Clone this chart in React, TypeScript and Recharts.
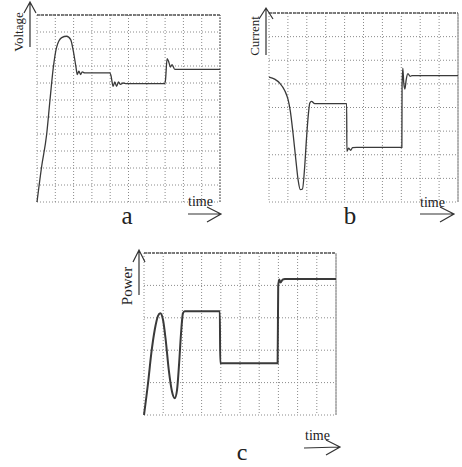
import React from 'react';
import { LineChart, Line, XAxis, YAxis, CartesianGrid, ReferenceLine } from 'recharts';

// time in grid divisions (tick labels on the scan are unreadable)
const timeTicks = [0, 1, 2, 3, 4, 5, 6, 7, 8, 9, 10];
const voltageTicks = [0, 1, 2, 3, 4, 5, 6, 7, 8, 9, 10, 11];
const currentTicks = [0, 1, 2, 3, 4, 5, 6, 7, 8];
const powerTicks = [0, 1, 2, 3, 4, 5];

const voltageTime = [0, 0.25, 0.53, 0.71, 0.89, 1.07, 1.35, 1.62, 1.84, 1.98, 2.13, 2.2, 2.29, 2.38, 2.47, 2.6, 3.98, 4.04, 4.16, 4.25, 4.35, 4.45, 4.56, 4.7, 4.89, 6.98, 7.02, 7.11, 7.2, 7.29, 7.38, 7.53, 10];
const voltageValues = [0, 2.06, 4.0, 6.0, 7.9, 9.1, 9.67, 9.75, 9.55, 8.9, 7.94, 7.5, 7.7, 7.5, 7.65, 7.6, 7.6, 7.45, 6.8, 7.06, 6.8, 7.06, 6.92, 7.0, 6.96, 6.96, 7.16, 8.43, 8.24, 7.94, 8.08, 7.8, 7.8];

const currentTime = [0, 0.3, 0.57, 0.83, 1.01, 1.13, 1.27, 1.42, 1.54, 1.66, 1.77, 1.89, 1.98, 2.09, 2.16, 2.25, 2.42, 4.11, 4.12, 4.21, 4.32, 4.42, 4.64, 7.03, 7.04, 7.08, 7.13, 7.19, 7.26, 7.35, 7.47, 7.56, 10];
const currentValues = [5.29, 5.2, 5.03, 4.72, 4.33, 3.84, 2.92, 1.79, 0.94, 0.52, 0.55, 1.51, 2.64, 3.77, 4.19, 4.26, 4.16, 4.16, 2.14, 2.28, 2.19, 2.3, 2.31, 2.31, 4.89, 5.67, 5.04, 4.78, 5.18, 5.43, 5.32, 5.35, 5.35];

const powerTime = [0, 0.21, 0.38, 0.56, 0.73, 0.85, 0.99, 1.13, 1.29, 1.46, 1.6, 1.72, 1.83, 1.93, 2.03, 2.12, 3.95, 3.97, 6.96, 6.99, 7.04, 7.11, 7.22, 7.34, 10];
const powerValues = [0, 0.98, 1.9, 2.63, 3.06, 3.14, 2.94, 2.32, 1.39, 0.72, 0.52, 0.77, 1.6, 2.53, 3.14, 3.2, 3.2, 1.6, 1.6, 3.97, 4.18, 4.09, 4.18, 4.2, 4.2];

const toRows = (ts: number[], vs: number[]) => ts.map((t, i) => ({ t, v: vs[i] }));

const PAD = 10;
const serif = '"Liberation Serif", "DejaVu Serif", serif';

// the scan's tick numbers are too blurred to read, so no labels
const NoLabel = () => null;

interface PanelProps {
  data: { t: number; v: number }[];
  yTicks: number[];
  left: number;
  top: number;
  width: number;
  height: number;
  lineWidth: number;
}

const Panel = ({ data, yTicks, left, top, width, height, lineWidth }: PanelProps) => {
  const yMax = yTicks[yTicks.length - 1];
  return (
    <div style={{ position: 'absolute', left: left - PAD, top: top - PAD }}>
      <LineChart width={width + 2 * PAD} height={height + 2 * PAD} data={data}
        margin={{ top: PAD, right: PAD, bottom: PAD, left: PAD }}>
        <CartesianGrid stroke="#8a8a8a" strokeDasharray="1 2" />
        <XAxis dataKey="t" type="number" domain={[0, 10]} ticks={timeTicks} tick={<NoLabel />}
          interval={0} height={0} axisLine={{ stroke: '#555', strokeWidth: 1.3 }}
          tickLine={{ stroke: '#666' }} tickSize={2} />
        <YAxis type="number" domain={[0, yMax]} ticks={yTicks} tick={<NoLabel />}
          interval={0} width={0} axisLine={{ stroke: '#555', strokeWidth: 1.3 }}
          tickLine={{ stroke: '#666' }} tickSize={2} />
        <ReferenceLine y={yMax} stroke="#555" strokeWidth={1.3} strokeDasharray="3 1" />
        <ReferenceLine x={10} stroke="#666" strokeDasharray="2 1" />
        <Line dataKey="v" type="monotone" stroke="#3a3a3a" strokeWidth={lineWidth}
          dot={false} isAnimationActive={false} />
      </LineChart>
    </div>
  );
};

const arrowStyle = { fill: 'none', stroke: '#333', strokeWidth: 1.2 };

export default function App() {
  return (
    <div style={{ position: 'fixed', left: 0, top: 0, width: 462, height: 467, overflow: 'hidden', background: '#fff' }}>
      <Panel data={toRows(voltageTime, voltageValues)} yTicks={voltageTicks} left={37} top={15} width={183} height={187} lineWidth={1.3} />
      <Panel data={toRows(currentTime, currentValues)} yTicks={currentTicks} left={269} top={13} width={189} height={189} lineWidth={1.3} />
      <Panel data={toRows(powerTime, powerValues)} yTicks={powerTicks} left={144} top={253} width={192} height={162} lineWidth={2} />

      <svg width={462} height={467} style={{ position: 'absolute', left: 0, top: 0, pointerEvents: 'none' }}>
        {/* a */}
        <path d="M30 47 L30 2 M24 13 L30 2 L36 13" style={arrowStyle} />
        <text x={18} y={32} transform="rotate(-90 18 32)" textAnchor="middle" dominantBaseline="central"
          fontFamily={serif} fontSize={13} fill="#222">Voltage</text>
        <text x={188} y={206} fontFamily={serif} fontSize={14} fill="#222">time</text>
        <path d="M188 214 L221 214 M207 207 L221 214 L207 222" style={arrowStyle} />
        <text x={127} y={224} textAnchor="middle" fontFamily={serif} fontSize={25} fill="#222">a</text>

        {/* b */}
        <path d="M266 55 L266 8 M259 19 L266 8 L273 19" style={arrowStyle} />
        <text x={254} y={36} transform="rotate(-90 254 36)" textAnchor="middle" dominantBaseline="central"
          fontFamily={serif} fontSize={13} fill="#222">Current</text>
        <text x={420} y={207} fontFamily={serif} fontSize={14} fill="#222">time</text>
        <path d="M420 214 L454 214 M440 207 L454 214 L440 222" style={arrowStyle} />
        <text x={350} y={224} textAnchor="middle" fontFamily={serif} fontSize={25} fill="#222">b</text>

        {/* c */}
        <path d="M139 295 L139 250 M133 262 L139 250 L145 262" style={arrowStyle} />
        <text x={127} y={286} transform="rotate(-90 127 286)" textAnchor="middle" dominantBaseline="central"
          fontFamily={serif} fontSize={15} fill="#222">Power</text>
        <text x={305} y={440} fontFamily={serif} fontSize={14} fill="#222">time</text>
        <path d="M304 448 L340 447 M326 440 L340 447 L326 455" style={arrowStyle} />
        <text x={242} y={460} textAnchor="middle" fontFamily={serif} fontSize={24} fill="#222">c</text>
      </svg>
    </div>
  );
}
